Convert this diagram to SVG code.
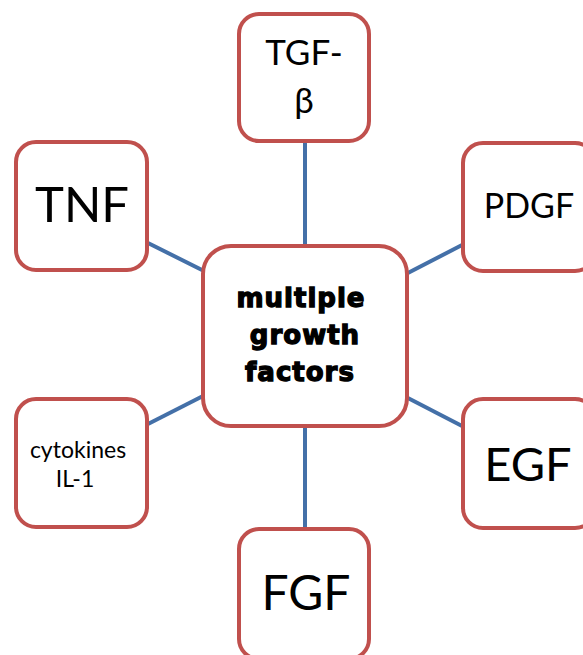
<svg xmlns="http://www.w3.org/2000/svg" width="583" height="655" viewBox="0 0 583 655">
<style>
.box{fill:#fff;stroke:#c0504d;stroke-width:4}
.lbl{font-family:Lato,"Liberation Sans",sans-serif;fill:#000;text-anchor:middle}
.ctr{font-family:"DejaVu Sans",sans-serif;font-weight:bold;font-size:26px;fill:#000;stroke:#000;stroke-width:1.3;text-anchor:middle;letter-spacing:1px}
.con{stroke:#4470a8;stroke-width:4;fill:none}
</style>
<rect width="583" height="655" fill="#fff"/>
<g id="connectors">
<line class="con" x1="305" y1="141" x2="305" y2="247"/>
<line class="con" x1="305" y1="425" x2="305" y2="530"/>
<line class="con" x1="146" y1="242" x2="206" y2="272"/>
<line class="con" x1="404" y1="275" x2="464" y2="244"/>
<line class="con" x1="146" y1="425" x2="205" y2="395"/>
<line class="con" x1="404" y1="396" x2="464" y2="427"/>
</g>
<g id="center">
<rect class="box" x="203" y="246" width="204" height="180" rx="28"/>
<text class="ctr" x="301" y="307">multiple</text>
<text class="ctr" x="305" y="344">growth</text>
<text class="ctr" x="300" y="381">factors</text>
</g>
<g id="tgf">
<rect class="box" x="239" y="14" width="130" height="127" rx="20"/>
<text class="lbl" x="304" y="65" font-size="35">TGF-</text>
<text class="lbl" x="304" y="113" font-size="35">β</text>
</g>
<g id="tnf">
<rect class="box" x="16" y="142" width="131" height="128" rx="20"/>
<text class="lbl" x="82" y="222" font-size="49">TNF</text>
</g>
<g id="pdgf">
<rect class="box" x="463" y="143" width="132" height="128" rx="20"/>
<text class="lbl" x="529" y="218" font-size="34">PDGF</text>
</g>
<g id="cytokines">
<rect class="box" x="16" y="399" width="131" height="128" rx="20"/>
<text class="lbl" x="78" y="458" font-size="23">cytokines</text>
<text class="lbl" x="75" y="487" font-size="23">IL-1</text>
</g>
<g id="egf">
<rect class="box" x="463" y="399" width="132" height="129" rx="20"/>
<text class="lbl" x="528" y="481" font-size="47">EGF</text>
</g>
<g id="fgf">
<rect class="box" x="239" y="529" width="130" height="130" rx="20"/>
<text class="lbl" x="306" y="610" font-size="48">FGF</text>
</g>
</svg>
